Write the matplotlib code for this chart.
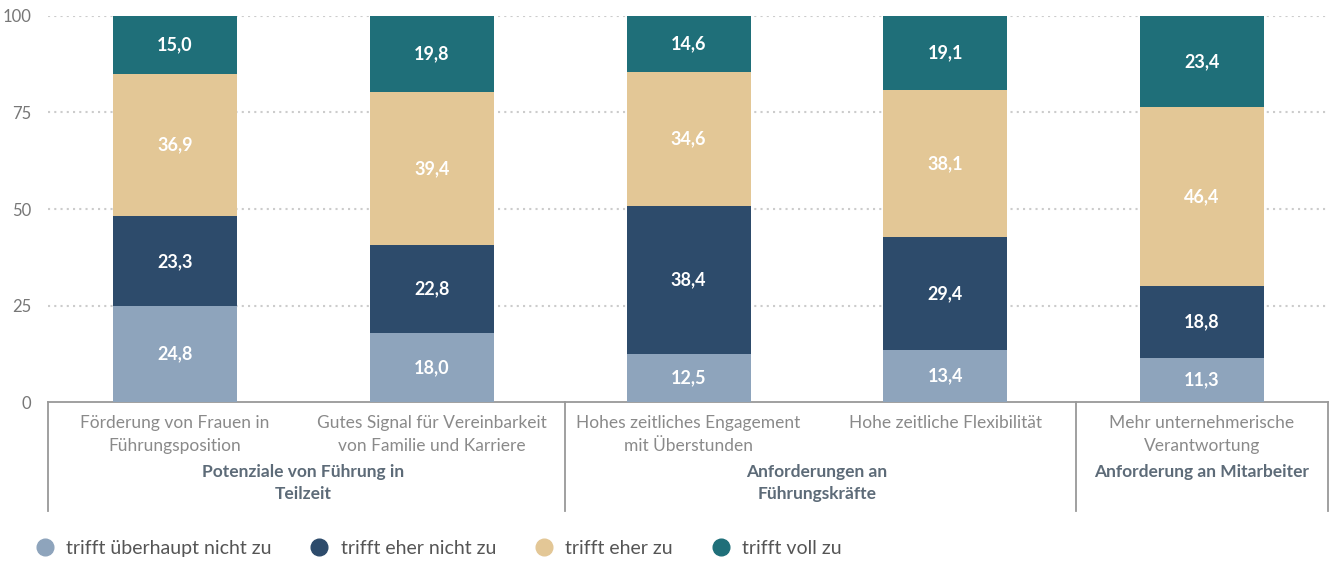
import matplotlib.pyplot as plt
from matplotlib.lines import Line2D
from matplotlib.transforms import blended_transform_factory

plt.rcParams['font.family'] = ['Lato', 'DejaVu Sans']

# --- Daten ---
kategorien = [
    "Förderung von Frauen in\nFührungsposition",
    "Gutes Signal für Vereinbarkeit\nvon Familie und Karriere",
    "Hohes zeitliches Engagement\nmit Überstunden",
    "Hohe zeitliche Flexibilität",
    "Mehr unternehmerische\nVerantwortung",
]
gruppen = [
    "Potenziale von Führung in\nTeilzeit",
    "Anforderungen an\nFührungskräfte",
    "Anforderung an Mitarbeiter",
]
gruppen_pos = [0.5, 2.5, 4.0]
gruppen_grenzen = [-0.495, 1.52, 3.51, 4.491]

serien = ["trifft überhaupt nicht zu", "trifft eher nicht zu", "trifft eher zu", "trifft voll zu"]
ueberhaupt_nicht = [24.8, 18.0, 12.5, 13.4, 11.3]
eher_nicht = [23.3, 22.8, 38.4, 29.4, 18.8]
eher_zu = [36.9, 39.4, 34.6, 38.1, 46.4]
voll_zu = [15.0, 19.8, 14.6, 19.1, 23.4]

farben = ["#8ea4bc", "#2d4b6b", "#e3c796", "#1f6f79"]

fig = plt.figure(figsize=(13.35, 5.61), dpi=100)
ax = fig.add_axes([48 / 1335, 0.2834, 1280 / 1335, 0.6881])

x = list(range(len(kategorien)))
unten = [0.0] * len(x)
for werte, farbe in zip([ueberhaupt_nicht, eher_nicht, eher_zu, voll_zu], farben):
    bars = ax.bar(x, werte, bottom=unten, width=0.483, color=farbe, zorder=3)
    for b, w, u in zip(bars, werte, unten):
        ax.text(b.get_x() + b.get_width() / 2, u + w / 2, f"{w:.1f}".replace(".", ","),
                ha="center", va="center", color="white", fontsize=13,
                fontweight="bold", zorder=4)
    unten = [u + w for u, w in zip(unten, werte)]

ax.set_xlim(-0.495, 4.491)
ax.set_ylim(0, 100)
ax.set_yticks([0, 25, 50, 75, 100])
ax.tick_params(axis="y", length=0, labelsize=12, labelcolor="#777777", pad=12)
ax.set_xticks([])
for s in ["top", "right", "left"]:
    ax.spines[s].set_visible(False)
ax.spines["bottom"].set_color("#999999")
ax.spines["bottom"].set_linewidth(1.3)
for y in [25, 50, 75, 100]:
    ax.axhline(y, color="#cccccc", linestyle=(0, (1, 2)), linewidth=1.5, zorder=1)

trans = blended_transform_factory(ax.transData, ax.transAxes)
for xi, k in zip(x, kategorien):
    ax.text(xi, -0.034, k, transform=trans, ha="center", va="top",
            fontsize=12.5, color="#8a8a8a", linespacing=1.5)
for gp, g in zip(gruppen_pos, gruppen):
    ax.text(gp, -0.16, g, transform=trans, ha="center", va="top",
            fontsize=12.5, color="#5d6b78", fontweight="bold", linespacing=1.5)
for gx in gruppen_grenzen:
    ax.plot([gx, gx], [0, -0.283], transform=trans, color="#999999",
            linewidth=1.3, clip_on=False)

handles = [Line2D([], [], marker="o", linestyle="", markersize=12,
                  markerfacecolor=f, markeredgecolor=f) for f in farben]
fig.legend(handles, serien, loc="center left", bbox_to_anchor=(0.006, 0.023),
           ncol=4, frameon=False, fontsize=14, handletextpad=0.1,
           columnspacing=1.45, labelcolor="#555555")

fig.savefig("out.png", dpi=100)
